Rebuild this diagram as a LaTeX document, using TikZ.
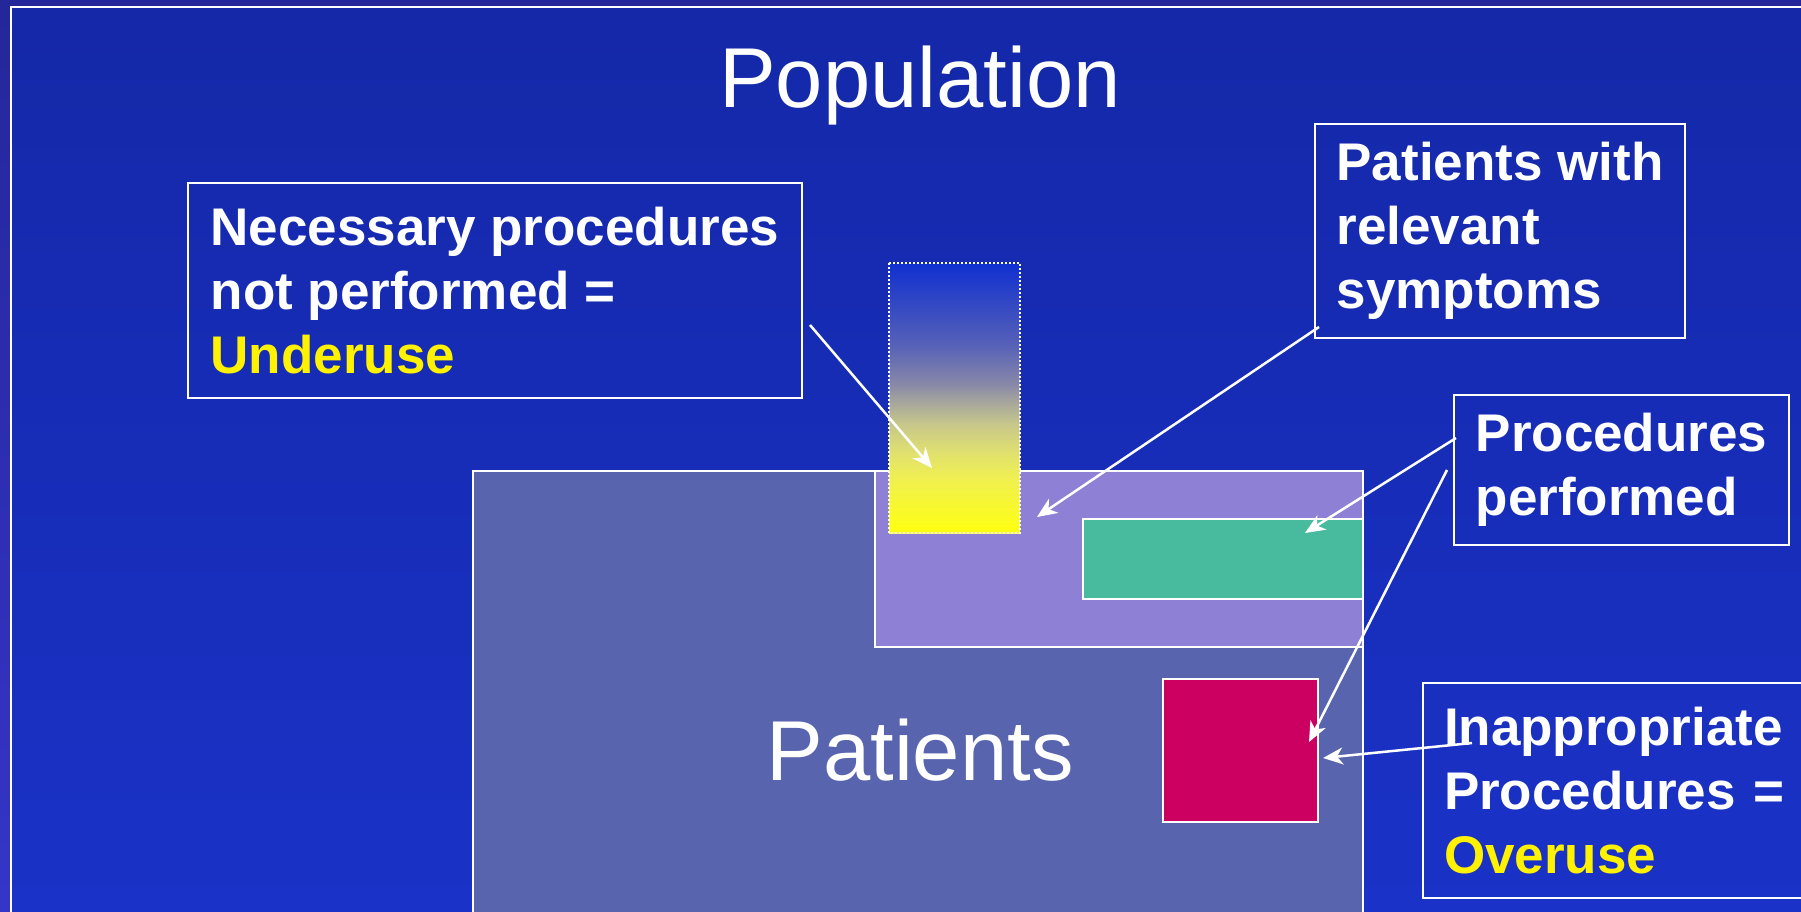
\documentclass[tikz,border=0pt]{standalone}
\usepackage{fontspec}
\setmainfont{Liberation Sans}
\usetikzlibrary{arrows.meta}

\definecolor{rimtop}{HTML}{24279A}
\definecolor{rimbottom}{HTML}{3535C8}
\definecolor{bgtop}{HTML}{1428A8}
\definecolor{bgbottom}{HTML}{1A32C8}
\definecolor{patientblue}{HTML}{5865AE}
\definecolor{symptomviolet}{HTML}{8E80D4}
\definecolor{performedgreen}{HTML}{48BB9E}
\definecolor{overusered}{HTML}{CC0060}

% blue fading through grey into yellow, path spans 25bp..75bp
\definecolor{bar0}{HTML}{FFFF10}
\definecolor{bar1}{HTML}{F0F050}
\definecolor{bar2}{HTML}{E0E070}
\definecolor{bar3}{HTML}{C8C88A}
\definecolor{bar4}{HTML}{A0A0A0}
\definecolor{bar5}{HTML}{8888A8}
\definecolor{bar6}{HTML}{5560B8}
\definecolor{bar7}{HTML}{1030D0}
\pgfdeclareverticalshading{underusebar}{100bp}{color(0bp)=(bar0); color(25bp)=(bar0);
    color(35bp)=(bar1); color(40bp)=(bar2); color(45bp)=(bar3); color(50bp)=(bar4);
    color(52.5bp)=(bar5); color(60bp)=(bar6); color(75bp)=(bar7); color(100bp)=(bar7)}

\begin{document}
\begin{tikzpicture}[x=1pt,y=-1pt,
    area/.style={draw=white,line width=2pt},
    callout/.style={draw=white,line width=2pt,align=left,text=white,anchor=north west,
        font={\fontsize{53}{64}\selectfont\bfseries}},
    bigtitle/.style={text=white,anchor=base,font={\fontsize{85}{100}\selectfont}},
    pointer/.style={white,line width=2.5pt,-{Stealth[length=20pt,width=17pt,inset=6pt]}}]

    \useasboundingbox (0,0) rectangle (1801,912);
    \shade[top color=rimtop,bottom color=rimbottom] (0,0) rectangle (1801,912);
    \shadedraw[top color=bgtop,bottom color=bgbottom,draw=white,line width=2pt] (11,7) rectangle (1820,930);

    % nested areas
    \filldraw[area,fill=patientblue] (473,471) rectangle (1363,930);
    \filldraw[area,fill=symptomviolet] (875,471) rectangle (1363,647);
    \filldraw[area,fill=performedgreen] (1083,519) rectangle (1363,599);
    \filldraw[area,fill=overusered] (1163,679) rectangle (1318,822);
    \shadedraw[shading=underusebar,draw=white,line width=2pt,dash pattern=on 2pt off 2pt]
        (889,263) rectangle (1020,533);

    \node[bigtitle] (population) at (920,108) {Population};
    \node[bigtitle] (patients) at (920,780) {Patients};

    \node[callout,minimum width=614,minimum height=215] (under) at (187,182)
        {Necessary procedures\\not performed =\\{\color{yellow}Underuse}};
    \node[callout,minimum width=370,minimum height=214] (symptoms) at (1314,123)
        {Patients with\\relevant\\symptoms};
    \node[callout,minimum width=335,minimum height=150] (performed) at (1453,394)
        {Procedures\\performed};
    \node[callout,text width=360,inner xsep=21,minimum height=215] (overuse) at (1422,682)
        {Inappropriate\\Procedures =\\{\color{yellow}Overuse}};

    \coordinate (underFrom) at (810,325);
    \coordinate (underTip) at (932,468);
    \coordinate (symptomsFrom) at (1319,327);
    \coordinate (symptomsTip) at (1037,517);
    \coordinate (performedFrom) at (1456,438);
    \coordinate (performedTip) at (1305,533);
    \coordinate (wrongFrom) at (1447,470);
    \coordinate (wrongTip) at (1309,742);
    \coordinate (overuseFrom) at (1472,743);
    \coordinate (overuseTip) at (1323,758);

    \draw[pointer] (underFrom) -- (underTip);
    \draw[pointer] (symptomsFrom) -- (symptomsTip);
    \draw[pointer] (performedFrom) -- (performedTip);
    \draw[pointer] (wrongFrom) -- (wrongTip);
    \draw[pointer] (overuseFrom) -- (overuseTip);
\end{tikzpicture}
\end{document}
